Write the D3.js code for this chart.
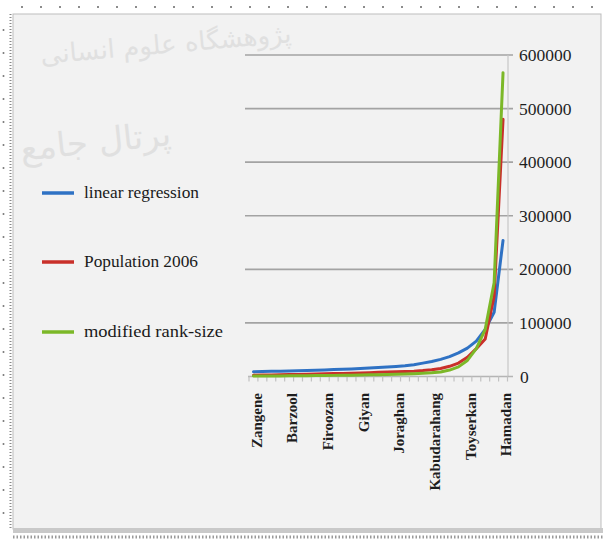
<!DOCTYPE html>
<html><head><meta charset="utf-8">
<script src="https://cdn.jsdelivr.net/npm/d3@7"></script>
<style>html,body{margin:0;padding:0;background:#fff;}svg{display:block;}</style>
</head><body>
<svg id="chart" width="603" height="542"></svg>
<script>
// ---- data ----
const categories = ["Zangene","Farasfaj","Gol Tappeh","Shirin Su","Barzool","Damaq","Sarkan","Jowkar",
  "Firoozan","Mohajeran","Ajin","Samen","Giyan","Salehabad","Maryanaj","Qahavand","Joraghan",
  "Azandarian","Famenin","Lalejin","Kabudarahang","Razan","Qorveh-e Darjazin","Bahar","Toyserkan",
  "Asadabad","Nahavand","Malayer","Hamadan"];
const shownLabels = ["Zangene","Barzool","Firoozan","Giyan","Joraghan","Kabudarahang","Toyserkan","Hamadan"];
const linearRegression = [9000,9300,9600,10000,10400,10800,11300,11800,12300,12900,13500,14200,15000,15800,
  16700,17700,18800,20000,22000,25000,28000,32000,37000,44000,53000,66000,88000,120000,254000];
const population2006 = [2500,2800,3000,3300,3600,3900,4200,4600,5000,5400,5800,6200,6700,7200,7700,8200,
  8800,9400,10000,11000,12500,15000,19000,25000,36000,52000,70000,150000,480000];
const modifiedRankSize = [800,900,1000,1100,1250,1400,1550,1700,1900,2100,2300,2550,2800,3100,3400,3800,
  4200,4700,5200,5900,6800,8500,12000,18000,30000,52000,88000,175000,567000];
const yTicks = [0,100000,200000,300000,400000,500000,600000];
const seriesNames = ["linear regression","Population 2006","modified rank-size"];
const seriesColors = ["#2f72c4","#c9302a","#7cb828"];
const seriesValues = [linearRegression, population2006, modifiedRankSize];

const svg = d3.select("#chart");

// ---- page frame (scanned look) ----
svg.append("rect").attr("width",603).attr("height",542).attr("fill","#fff");
svg.append("g").selectAll("circle").data(d3.range(22,603,19)).join("circle")
  .attr("cx",d=>d).attr("cy",7).attr("r",1).attr("fill","#666");
svg.append("g").selectAll("circle").data(d3.range(30,530,23)).join("circle")
  .attr("cx",3.5).attr("cy",d=>d).attr("r",1).attr("fill","#777");
svg.append("line").attr("x1",10.5).attr("x2",10.5).attr("y1",14).attr("y2",530)
  .attr("stroke","#888").attr("stroke-width",2).attr("stroke-dasharray","1,2");
svg.append("rect").attr("x",13).attr("y",14).attr("width",588).attr("height",515)
  .attr("fill","#f2f2f2").attr("stroke","#bdbdbd").attr("stroke-width",1);
svg.append("rect").attr("x",13).attr("y",528).attr("width",590).attr("height",5).attr("fill","#c9c9c9");
svg.append("line").attr("x1",13).attr("x2",603).attr("y1",537).attr("y2",537)
  .attr("stroke","#999").attr("stroke-width",3).attr("stroke-dasharray","1.5,2");

// ---- watermark ----
svg.append("text").attr("x",292).attr("y",42).attr("text-anchor","end")
  .attr("font-family","DejaVu Sans").attr("font-size",26).attr("fill","#e0e0e0")
  .attr("transform","rotate(-5,292,42)").text("پژوهشگاه علوم انسانی");
svg.append("text").attr("x",172).attr("y",145).attr("text-anchor","end")
  .attr("font-family","DejaVu Sans").attr("font-size",34).attr("fill","#e0e0e0")
  .attr("transform","rotate(-6,172,145)").text("پرتال جامع");

// ---- scales ----
const x = d3.scaleBand().domain(categories).range([249,507.5]);
const y = d3.scaleLinear().domain([0,600000]).range([376.5,55]);
const cx = c => x(c) + x.bandwidth()/2;

// gridlines
svg.append("g").selectAll("line").data(yTicks.slice(1)).join("line")
  .attr("x1",245).attr("x2",513).attr("y1",d=>y(d)).attr("y2",d=>y(d))
  .attr("stroke","#a3a3a3").attr("stroke-width",1.6);
// right axis line
svg.append("line").attr("x1",508).attr("x2",508).attr("y1",y(600000)).attr("y2",y(0))
  .attr("stroke","#c6c6c6").attr("stroke-width",1.2);
// bottom axis line + ticks
svg.append("line").attr("x1",248).attr("x2",513).attr("y1",y(0)).attr("y2",y(0))
  .attr("stroke","#b5b5b5").attr("stroke-width",1.6);
const bounds = categories.map(c=>x(c)).concat([x.range()[1]]);
svg.append("g").selectAll("line").data(bounds).join("line")
  .attr("x1",d=>d).attr("x2",d=>d).attr("y1",y(0)).attr("y2",y(0)+5)
  .attr("stroke","#c2c2c2").attr("stroke-width",1.2);

// y labels (right)
svg.append("g").selectAll("text").data(yTicks).join("text")
  .attr("x",d=>d===0?520:519).attr("y",d=>y(d)).attr("dy","0.35em")
  .attr("font-family","Liberation Serif").attr("font-size",17.5).attr("fill","#1e1e1e")
  .text(d=>d3.format("d")(d));

// x labels
svg.append("g").selectAll("text").data(shownLabels).join("text")
  .attr("transform",d=>`translate(${cx(d)+3},393) rotate(-90)`)
  .attr("text-anchor","end").attr("dy","0.35em")
  .attr("font-family","Liberation Serif").attr("font-weight","bold").attr("font-size",15)
  .attr("fill","#1e1e1e").text(d=>d);

// lines
const line = d3.line().x((d,i)=>cx(categories[i])).y(d=>y(d));
svg.append("g").selectAll("path").data(seriesValues).join("path")
  .attr("d",d=>line(d)).attr("fill","none")
  .attr("stroke",(d,i)=>seriesColors[i]).attr("stroke-width",3)
  .attr("stroke-linejoin","round").attr("stroke-linecap","round");

// legend
const legY = [193,262,332];
const legW = [115,114,139];
const leg = svg.append("g").selectAll("g").data(seriesNames).join("g");
leg.append("line").attr("x1",42).attr("x2",74).attr("y1",(d,i)=>legY[i]).attr("y2",(d,i)=>legY[i])
  .attr("stroke",(d,i)=>seriesColors[i]).attr("stroke-width",3.5);
leg.append("text").attr("x",84).attr("y",(d,i)=>legY[i]).attr("dy","0.32em")
  .attr("font-family","Liberation Serif").attr("font-size",17).attr("fill","#1a1a1a")
  .attr("textLength",(d,i)=>legW[i]).attr("lengthAdjust","spacingAndGlyphs")
  .text(d=>d);
</script>
</body></html>
